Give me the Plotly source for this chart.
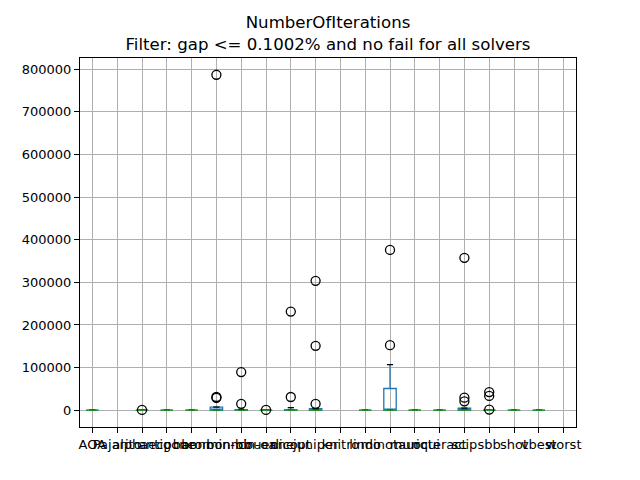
import plotly.graph_objects as go

# solver columns (tick labels overlap in the original, same here)
solvers = ["AOA", "Pajarito", "alphaecp", "antigone", "baron", "bonmin-bb",
           "bonmin-oa", "couenne", "dicopt", "juniper", "knitro", "lindo",
           "minotaur", "muriqui", "octeract", "scip", "sbb", "shot",
           "vbest", "worst"]

# box statistics per solver (None = no data for that solver)
q1 = [0, None, 0, 0, 0, 0, 0, 0, 0, 0, None, 0, 0, 0, 0, 0, 0, 0, 0, None]
median = [0, None, 0, 0, 0, 300, 0, 0, 0, 0, None, 0, 0, 0, 0, 0, 0, 0, 0, None]
q3 = [0, None, 0, 0, 0, 7500, 1500, 0, 1500, 3500, None, 0, 51000, 0, 0, 5000, 0, 0, 0, None]
upper = [0, None, 0, 0, 0, 7500, 2000, 0, 6000, 3500, None, 0, 107000, 0, 0, 5000, 0, 0, 0, None]

# fliers
outliers = [[], [], [800], [], [], [787000, 31000, 29000], [89500, 15000], [700],
            [231500, 31000], [303500, 151000, 15000], [], [], [376000, 152500],
            [], [], [357500, 29500, 21000], [42500, 33500, 1500], [], [], []]

idx = [i for i in range(len(solvers)) if median[i] is not None]
half = 0.25

fig = go.Figure()

fig.add_trace(go.Box(
    x=idx,
    q1=[q1[i] for i in idx],
    median=[median[i] for i in idx],
    q3=[q3[i] for i in idx],
    lowerfence=[q1[i] for i in idx],
    upperfence=[upper[i] for i in idx],
    width=0.5,
    whiskerwidth=0,
    fillcolor="rgba(0,0,0,0)",
    line=dict(color="#1f77b4", width=1.3),
    boxpoints=False,
    hoverinfo="skip",
    showlegend=False,
))

# black caps
cx, cy = [], []
for i in idx:
    for v in (q1[i], upper[i]):
        cx += [i - half / 2, i + half / 2, None]
        cy += [v, v, None]
fig.add_trace(go.Scatter(x=cx, y=cy, mode="lines",
                         line=dict(color="black", width=1.3),
                         hoverinfo="skip", showlegend=False))

# green medians
mx, my = [], []
for i in idx:
    mx += [i - half, i + half, None]
    my += [median[i], median[i], None]
fig.add_trace(go.Scatter(x=mx, y=my, mode="lines",
                         line=dict(color="#2ca02c", width=1.3),
                         hoverinfo="skip", showlegend=False))

ox, oy = [], []
for i, vals in enumerate(outliers):
    for v in vals:
        ox.append(i)
        oy.append(v)
fig.add_trace(go.Scatter(x=ox, y=oy, mode="markers",
                         marker=dict(symbol="circle-open", size=9, color="black",
                                     line=dict(width=1.3)),
                         showlegend=False))

# page body adds an 8px offset, margins compensate for it
fig.update_layout(
    width=640, height=480,
    margin=dict(l=72, r=72, t=50, b=61),
    paper_bgcolor="white", plot_bgcolor="white",
    font=dict(family="DejaVu Sans", size=13, color="black"),
    title=dict(text="NumberOfIterations<br>Filter: gap <= 0.1002% and no fail for all solvers",
               x=0.5, xref="paper", xanchor="center",
               y=1 - 20 / 480, yref="container", yanchor="top",
               automargin=False, font=dict(size=16.6)),
)

fig.update_xaxes(
    range=[-0.5, len(solvers) - 0.5],
    tickmode="array", tickvals=list(range(len(solvers))), ticktext=solvers,
    tickangle=0, automargin=False,
    showgrid=True, gridcolor="#b0b0b0", gridwidth=1,
    zeroline=False,
    showline=True, mirror=True, linecolor="black", linewidth=1,
    ticks="outside", ticklen=5, tickcolor="black",
)
fig.update_yaxes(
    range=[-39350, 826350],
    tickmode="array", tickvals=list(range(0, 800001, 100000)),
    tickformat="d", automargin=False,
    showgrid=True, gridcolor="#b0b0b0", gridwidth=1,
    zeroline=False,
    showline=True, mirror=True, linecolor="black", linewidth=1,
    ticks="outside", ticklen=5, tickcolor="black",
)

fig.write_html("out.html")
